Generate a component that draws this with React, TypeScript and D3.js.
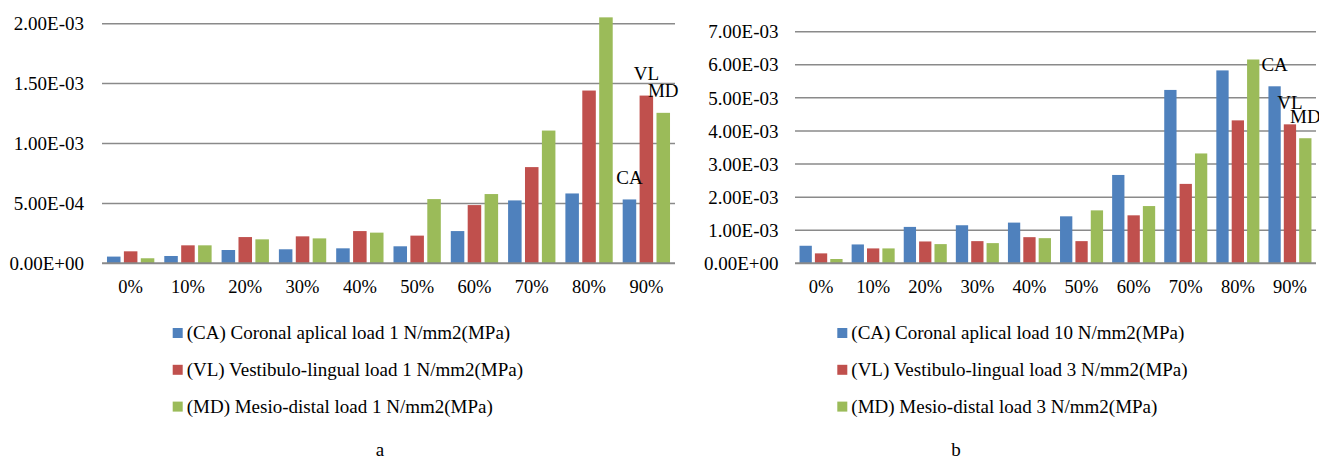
import React, { useRef, useEffect } from 'react';
import * as d3 from 'd3';

// Load levels (x categories)
const categories = ['0%', '10%', '20%', '30%', '40%', '50%', '60%', '70%', '80%', '90%'];
const seriesKeys = ['CA', 'VL', 'MD'];
const colors = ['#4F81BD', '#C0504D', '#9BBB59'];

// Chart a values
const caA = [5.6e-5, 6.1e-5, 1.11e-4, 1.17e-4, 1.25e-4, 1.42e-4, 2.69e-4, 5.25e-4, 5.83e-4, 5.33e-4];
const vlA = [1.0e-4, 1.5e-4, 2.19e-4, 2.25e-4, 2.69e-4, 2.31e-4, 4.86e-4, 8.03e-4, 1.442e-3, 1.4e-3];
const mdA = [4.2e-5, 1.5e-4, 2.0e-4, 2.08e-4, 2.56e-4, 5.36e-4, 5.78e-4, 1.108e-3, 2.053e-3, 1.256e-3];
const ticksA = [0, 5e-4, 1e-3, 1.5e-3, 2e-3];
const tickLabelsA = ['0.00E+00', '5.00E-04', '1.00E-03', '1.50E-03', '2.00E-03'];
const legendA = [
    '(CA) Coronal aplical load 1 N/mm2(MPa)',
    '(VL) Vestibulo-lingual load 1 N/mm2(MPa)',
    '(MD) Mesio-distal load 1 N/mm2(MPa)'
];

// Chart b values
const caB = [5.3e-4, 5.7e-4, 1.10e-3, 1.15e-3, 1.23e-3, 1.42e-3, 2.67e-3, 5.24e-3, 5.83e-3, 5.35e-3];
const vlB = [3.0e-4, 4.5e-4, 6.6e-4, 6.7e-4, 7.9e-4, 6.7e-4, 1.45e-3, 2.40e-3, 4.32e-3, 4.20e-3];
const mdB = [1.3e-4, 4.5e-4, 5.8e-4, 6.1e-4, 7.6e-4, 1.60e-3, 1.73e-3, 3.32e-3, 6.16e-3, 3.78e-3];
const ticksB = [0, 1e-3, 2e-3, 3e-3, 4e-3, 5e-3, 6e-3, 7e-3];
const tickLabelsB = ['0.00E+00', '1.00E-03', '2.00E-03', '3.00E-03', '4.00E-03', '5.00E-03', '6.00E-03', '7.00E-03'];
const legendB = [
    '(CA) Coronal aplical load 10 N/mm2(MPa)',
    '(VL) Vestibulo-lingual load 3 N/mm2(MPa)',
    '(MD) Mesio-distal load 3 N/mm2(MPa)'
];

const FONT = '"Liberation Serif", "Times New Roman", serif';

interface PanelConfig {
    series: number[][];
    ticks: number[];
    tickLabels: string[];
    yMax: number;
    legend: string[];
    caption: string;
    left: number;
    right: number;
    top: number;
    bottom: number;
    labelX: number;
    legendX: number;
    captionX: number;
}

function drawPanel(svg: d3.Selection<SVGSVGElement, unknown, null, undefined>, c: PanelConfig) {
    const g = svg.append('g');

    const x0 = d3.scaleBand<string>().domain(categories).range([c.left, c.right]);
    const bw = x0.bandwidth();
    const pad = bw * 0.087;
    const x1 = d3.scaleBand<string>().domain(seriesKeys).range([pad, bw - pad]).paddingInner(0.2);
    const y = d3.scaleLinear().domain([0, c.yMax]).range([c.bottom, c.top]);

    // gridlines
    g.append('g')
        .selectAll('line')
        .data(c.ticks.slice(1))
        .join('line')
        .attr('x1', c.left)
        .attr('x2', c.right)
        .attr('y1', d => y(d))
        .attr('y2', d => y(d))
        .attr('stroke', '#8a8a8a')
        .attr('stroke-width', 1.5);

    // y tick labels
    g.append('g')
        .selectAll('text')
        .data(c.ticks)
        .join('text')
        .attr('x', c.labelX)
        .attr('y', d => y(d))
        .attr('dy', '0.35em')
        .attr('text-anchor', 'end')
        .attr('font-family', FONT)
        .attr('font-size', 19)
        .attr('fill', '#000')
        .text((d, i) => c.tickLabels[i]);

    // bars
    const groups = g.append('g')
        .selectAll('g')
        .data(categories)
        .join('g')
        .attr('transform', d => `translate(${x0(d)},0)`);

    groups.selectAll('rect')
        .data((d, i) => c.series.map((s, k) => ({ key: seriesKeys[k], value: s[i], k })))
        .join('rect')
        .attr('x', d => x1(d.key)!)
        .attr('width', x1.bandwidth())
        .attr('y', d => y(d.value))
        .attr('height', d => c.bottom - y(d.value))
        .attr('fill', d => colors[d.k]);

    // x axis line
    g.append('line')
        .attr('x1', c.left)
        .attr('x2', c.right)
        .attr('y1', c.bottom)
        .attr('y2', c.bottom)
        .attr('stroke', '#8a8a8a')
        .attr('stroke-width', 2);

    // x labels
    g.append('g')
        .selectAll('text')
        .data(categories)
        .join('text')
        .attr('x', d => x0(d)! + bw / 2)
        .attr('y', c.bottom + 30)
        .attr('text-anchor', 'middle')
        .attr('font-family', FONT)
        .attr('font-size', 18.5)
        .text(d => d);

    // data labels on last category
    const last = categories.length - 1;
    g.append('g')
        .selectAll('text')
        .data(seriesKeys)
        .join('text')
        .attr('x', d => x0(categories[last])! + x1(d)! + x1.bandwidth() / 2)
        .attr('y', (d, k) => y(c.series[k][last]) - 15.5)
        .attr('text-anchor', 'middle')
        .attr('font-family', FONT)
        .attr('font-size', 19)
        .text(d => d);

    // legend
    const legend = g.append('g')
        .selectAll('g')
        .data(c.legend)
        .join('g')
        .attr('transform', (d, i) => `translate(${c.legendX},${333 + i * 36.8})`);

    legend.append('rect')
        .attr('x', 0)
        .attr('y', -5)
        .attr('width', 10)
        .attr('height', 10)
        .attr('fill', (d, i) => colors[i]);

    legend.append('text')
        .attr('x', 14)
        .attr('dy', '0.33em')
        .attr('font-family', FONT)
        .attr('font-size', 19)
        .text(d => d);

    g.append('text')
        .attr('x', c.captionX)
        .attr('y', 456)
        .attr('text-anchor', 'middle')
        .attr('font-family', FONT)
        .attr('font-size', 19)
        .text(c.caption);
}

export default function App() {
    const svgRef = useRef<SVGSVGElement>(null);

    useEffect(() => {
        if (!svgRef.current) return;
        const svg = d3.select(svgRef.current);
        svg.selectAll('*').remove();

        drawPanel(svg, {
            series: [caA, vlA, mdA],
            ticks: ticksA,
            tickLabels: tickLabelsA,
            yMax: 2e-3,
            legend: legendA,
            caption: 'a',
            left: 102,
            right: 675,
            top: 23.7,
            bottom: 263.3,
            labelX: 84,
            legendX: 172.7,
            captionX: 380
        });

        drawPanel(svg, {
            series: [caB, vlB, mdB],
            ticks: ticksB,
            tickLabels: tickLabelsB,
            yMax: 7e-3,
            legend: legendB,
            caption: 'b',
            left: 795,
            right: 1316,
            top: 31.7,
            bottom: 263.3,
            labelX: 778.5,
            legendX: 837.3,
            captionX: 956
        });
    }, []);

    return (
        <svg
            ref={svgRef}
            width={1319}
            height={461}
            viewBox="0 0 1319 461"
            style={{ position: 'absolute', left: 0, top: 0, background: '#fff' }}
        />
    );
}
